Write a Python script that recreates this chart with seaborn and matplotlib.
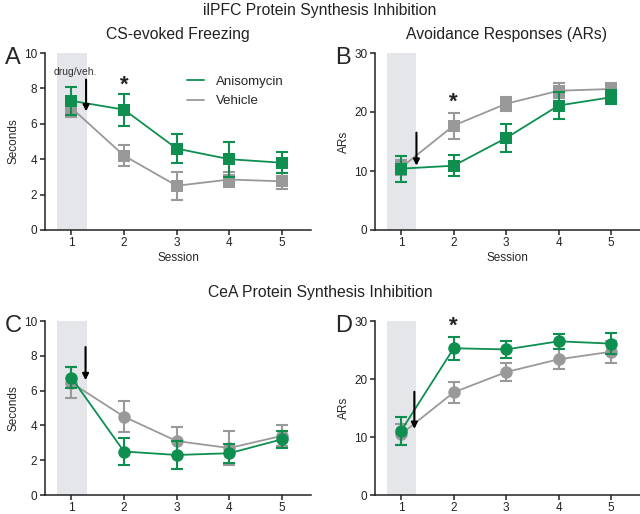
import matplotlib
matplotlib.use("Agg")
import matplotlib.pyplot as plt
import seaborn as sns
import pandas as pd
from matplotlib.lines import Line2D

sns.set_theme(style="ticks")
plt.rcParams['font.family'] = ['Liberation Sans', 'DejaVu Sans']

sessions = [1, 2, 3, 4, 5]

# Panel A: CS-evoked freezing (ilPFC)
a_aniso = [7.3, 6.8, 4.6, 4.0, 3.8]
a_aniso_err = [0.8, 0.9, 0.8, 1.0, 0.6]
a_veh = [6.9, 4.2, 2.5, 2.85, 2.75]
a_veh_err = [0.5, 0.6, 0.8, 0.4, 0.45]

# Panel B: ARs (ilPFC)
b_aniso = [10.4, 10.9, 15.6, 21.1, 22.5]
b_aniso_err = [2.2, 1.8, 2.3, 2.3, 1.2]
b_veh = [10.6, 17.7, 21.4, 23.6, 23.9]
b_veh_err = [1.2, 2.2, 1.2, 1.3, 1.0]

# Panel C: CS-evoked freezing (CeA)
c_aniso = [6.75, 2.5, 2.3, 2.4, 3.2]
c_aniso_err = [0.6, 0.75, 0.8, 0.55, 0.5]
c_veh = [6.45, 4.5, 3.1, 2.7, 3.4]
c_veh_err = [0.9, 0.9, 0.8, 1.0, 0.6]

# Panel D: ARs (CeA)
d_aniso = [11.1, 25.3, 25.1, 26.5, 26.1]
d_aniso_err = [2.4, 2.0, 1.4, 1.3, 1.8]
d_veh = [10.5, 17.7, 21.2, 23.4, 24.7]
d_veh_err = [1.8, 1.8, 1.5, 1.7, 1.9]

GREEN = "#0e8f50"
GREY = "#999999"
SHADE = "#e4e6e9"

fig = plt.figure(figsize=(6.4, 5.14), dpi=100)

W, H = 640, 514
def ax_at(l, t, r, b):
    return fig.add_axes([l / W, 1 - b / H, (r - l) / W, (b - t) / H])

axA = ax_at(45, 53, 311, 230)
axB = ax_at(375, 53, 640, 230)
axC = ax_at(45, 321, 311, 495)
axD = ax_at(375, 321, 640, 495)

def panel(ax, aniso, aerr, veh, verr, marker, ymax, ylabel, xlabel, letter,
          arrow, star=None):
    ax.axvspan(0.72, 1.29, color=SHADE, lw=0, zorder=0)
    for vals, errs, col, z in [(veh, verr, GREY, 2), (aniso, aerr, GREEN, 3)]:
        df = pd.DataFrame({"Session": sessions, "v": vals})
        sns.lineplot(data=df, x="Session", y="v", ax=ax, color=col,
                     marker=marker, markersize=8.5 if marker == "s" else 9,
                     markeredgewidth=0, lw=1.3, zorder=z, legend=False)
        ax.errorbar(sessions, vals, yerr=errs, fmt="none", ecolor=col,
                    elinewidth=1.5, capsize=4, capthick=1.5, zorder=z)
    ax.set_xlim(0.5, 5.55)
    ax.set_ylim(0, ymax)
    ax.set_xticks(sessions)
    ax.set_yticks(range(0, ymax + 1, 2 if ymax == 10 else 10))
    ax.tick_params(labelsize=8.5, length=3.5, width=1.1, pad=2, colors="#222222")
    ax.tick_params(axis="x", pad=1.5)
    for s in ["left", "bottom"]:
        ax.spines[s].set_linewidth(1.1)
        ax.spines[s].set_color("#222222")
    sns.despine(ax=ax)
    ax.set_ylabel(ylabel, fontsize=8.5, labelpad=3)
    ax.set_xlabel(xlabel, fontsize=8.5, labelpad=2)
    ax.text(-0.12, 0.97, letter, transform=ax.transAxes, fontsize=17,
            ha="center", va="center")
    ax.annotate("", xy=(arrow[0], arrow[2]), xytext=(arrow[0], arrow[1]),
                arrowprops=dict(arrowstyle="-|>", color="black", lw=1.5,
                                mutation_scale=9, shrinkA=0, shrinkB=0),
                zorder=5)
    if star is not None:
        ax.text(2, star, "*", fontsize=16, ha="center", va="center",
                fontweight="bold", color="#222222")

panel(axA, a_aniso, a_aniso_err, a_veh, a_veh_err, "s", 10, "Seconds",
      "Session", "A", (1.28, 8.5, 6.7), star=8.2)
panel(axB, b_aniso, b_aniso_err, b_veh, b_veh_err, "s", 30, "ARs",
      "Session", "B", (1.29, 16.5, 10.9), star=21.6)
panel(axC, c_aniso, c_aniso_err, c_veh, c_veh_err, "o", 10, "Seconds",
      "", "C", (1.27, 8.5, 6.6))
panel(axD, d_aniso, d_aniso_err, d_veh, d_veh_err, "o", 30, "ARs",
      "", "D", (1.25, 17.8, 11.4), star=29.1)

axA.text(1.08, 8.95, "drug/veh.", fontsize=7.5, ha="center", va="center",
         color="#333333")

handles = [Line2D([], [], color=GREEN, lw=1.3), Line2D([], [], color=GREY, lw=1.3)]
axA.legend(handles, ["Anisomycin", "Vehicle"], loc="upper left",
           bbox_to_anchor=(0.49, 0.94), frameon=False, fontsize=9.5,
           handlelength=1.3, handletextpad=0.9, labelspacing=0.55)

fig.text(320 / W, 1 - 11 / H, "ilPFC Protein Synthesis Inhibition",
         fontsize=11.3, ha="center", va="center", color="#222222")
fig.text(178 / W, 1 - 35 / H, "CS-evoked Freezing", fontsize=11.3,
         ha="center", va="center", color="#222222")
fig.text(507 / W, 1 - 35 / H, "Avoidance Responses (ARs)", fontsize=11.3,
         ha="center", va="center", color="#222222")
fig.text(320 / W, 1 - 292 / H, "CeA Protein Synthesis Inhibition",
         fontsize=11.3, ha="center", va="center", color="#222222")

fig.savefig("out.png", dpi=100)
